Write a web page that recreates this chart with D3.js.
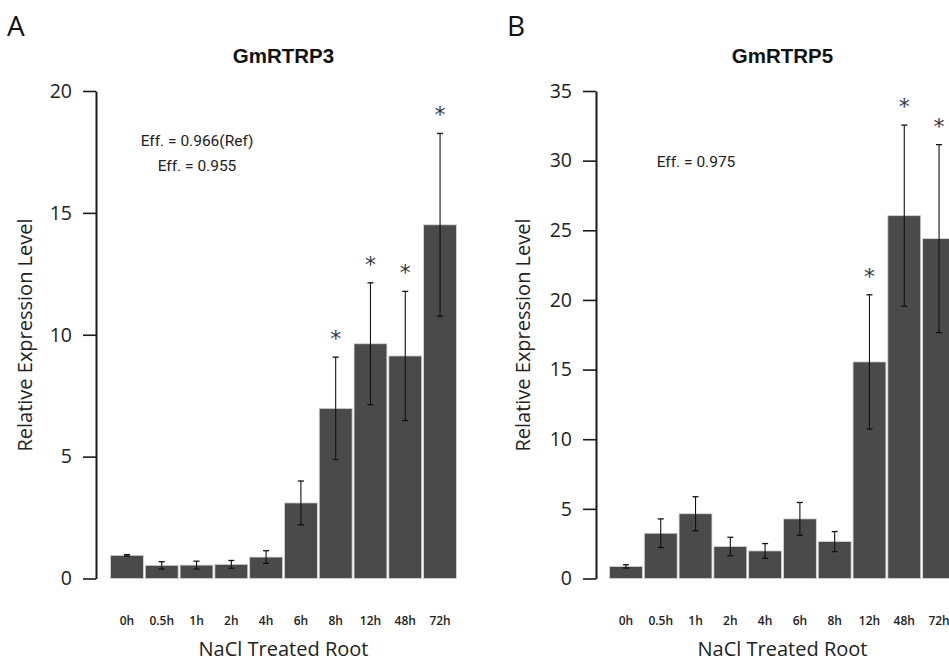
<!DOCTYPE html>
<html><head><meta charset="utf-8">
<script src="https://cdn.jsdelivr.net/npm/d3@7"></script>
<style>body{margin:0;background:#fff}svg{display:block}</style>
</head><body>
<svg id="c" width="949" height="661"></svg>
<script>
const categories = ["0h","0.5h","1h","2h","4h","6h","8h","12h","48h","72h"];
// Panel A: GmRTRP3
const valuesA = [0.95,0.54,0.55,0.58,0.88,3.1,6.98,9.63,9.13,14.51];
const errA    = [0.03,0.15,0.16,0.16,0.26,0.9,2.1,2.5,2.65,3.75];
const sigA    = [0,0,0,0,0,0,1,1,1,1];
const ticksA  = [0,5,10,15,20];
// Panel B: GmRTRP5
const valuesB = [0.87,3.25,4.65,2.3,1.98,4.28,2.65,15.55,26.05,24.4];
const errB    = [0.12,1.03,1.22,0.66,0.53,1.18,0.72,4.82,6.5,6.75];
const sigB    = [0,0,0,0,0,0,0,1,1,1];
const ticksB  = [0,5,10,15,20,25,30,35];

const svg = d3.select("#c");
const sans = "'Open Sans', sans-serif";

function panel(o){
  const g = svg.append("g");
  const x = d3.scaleBand().domain(categories).range(o.xr).paddingInner(0.055).paddingOuter(0);
  const y = d3.scaleLinear().domain([0, o.max]).range([578.5, 91]);
  const ax = g.append("g").attr("transform", `translate(${o.axX},0)`)
    .call(d3.axisLeft(y).tickValues(o.ticks).tickSize(13).tickSizeOuter(0).tickPadding(11).tickFormat(d3.format("d")));
  ax.select(".domain").attr("stroke","#1a1a1a").attr("stroke-width",2);
  ax.selectAll(".tick line").attr("stroke","#1a1a1a").attr("stroke-width",1.6);
  ax.selectAll(".tick text").attr("font-family",sans).attr("font-size","19.5px").attr("fill","#222");
  g.selectAll("rect.bar").data(o.vals).join("rect").attr("class","bar")
    .attr("x",(d,i)=>x(categories[i])).attr("width",x.bandwidth())
    .attr("y",d=>y(d)).attr("height",d=>y(0)-y(d))
    .attr("fill","#4a4a4a").attr("stroke","#d6d6d6").attr("stroke-width",0.8);
  const eb = g.selectAll("g.eb").data(o.vals.map((v,i)=>({v, e:o.err[i], s:o.sig[i], c:categories[i]}))).join("g").attr("class","eb")
    .attr("transform",d=>`translate(${x(d.c)+x.bandwidth()/2},0)`);
  eb.append("line").attr("y1",d=>y(d.v+d.e)).attr("y2",d=>y(Math.max(0,d.v-d.e)))
    .attr("stroke","#111").attr("stroke-width",1.1);
  eb.append("line").attr("x1",-3).attr("x2",3).attr("y1",d=>y(d.v+d.e)).attr("y2",d=>y(d.v+d.e))
    .attr("stroke","#111").attr("stroke-width",1.3);
  eb.append("line").attr("x1",-3).attr("x2",3).attr("y1",d=>y(Math.max(0,d.v-d.e))).attr("y2",d=>y(Math.max(0,d.v-d.e)))
    .attr("stroke","#111").attr("stroke-width",1.3);
  eb.filter(d=>d.s).append("text")
    .attr("text-anchor","middle").attr("font-family","'DejaVu Sans', sans-serif").attr("font-size","22px")
    .attr("fill","#353845")
    .attr("y",d=>y(d.v+d.e) - 24 + 13)
    .text("*");
  g.selectAll("text.xl").data(categories).join("text").attr("class","xl")
    .attr("x",d=>x(d)+x.bandwidth()/2).attr("y",625).attr("text-anchor","middle")
    .attr("font-family",sans).attr("font-weight",600).attr("font-size","12px").attr("fill","#222").text(d=>d);
  const cx = (o.xr[0]+o.xr[1])/2;
  g.append("text").attr("x",cx).attr("y",656).attr("text-anchor","middle")
    .attr("font-family",sans).attr("font-size","20px").attr("fill","#222").text("NaCl Treated Root");
  g.append("text").attr("transform",`translate(${o.ylX},335) rotate(-90)`).attr("text-anchor","middle")
    .attr("font-family",sans).attr("font-size","20px").attr("fill","#222").text("Relative Expression Level");
  g.append("text").attr("x",cx).attr("y",62.5).attr("text-anchor","middle")
    .attr("font-family","'Liberation Sans', Arial, sans-serif").attr("font-weight","bold").attr("font-size","20.5px").attr("fill","#111").text(o.title);
  g.append("text").attr("x",o.letterX).attr("y",36).attr("font-family",sans).attr("font-size","28px").attr("fill","#111").text(o.letter);
  o.eff.forEach(e=>{
    g.append("text").attr("x",e[0]).attr("y",e[1]).attr("text-anchor","middle")
      .attr("font-family","'Roboto', sans-serif").attr("font-size","15.5px").attr("fill","#222").text(e[2]);
  });
}

panel({xr:[110.5,456.5], max:20, ticks:ticksA, vals:valuesA, err:errA, sig:sigA, axX:96, ylX:32,
  title:"GmRTRP3", letter:"A", letterX:7, eff:[[197,145.5,"Eff. = 0.966(Ref)"],[197,170.5,"Eff. = 0.955"]]});
panel({xr:[609.5,955.5], max:35, ticks:ticksB, vals:valuesB, err:errB, sig:sigB, axX:596, ylX:530,
  title:"GmRTRP5", letter:"B", letterX:507, eff:[[696,167,"Eff. = 0.975"]]});
</script>
</body></html>
